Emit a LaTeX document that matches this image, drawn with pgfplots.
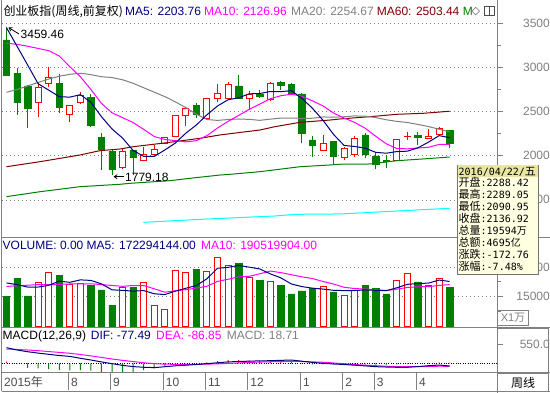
\documentclass[border=0pt]{standalone}
\usepackage{fontspec}
\setmainfont{Liberation Sans}
\newfontfamily\cjk{Noto Sans CJK SC}
\newfontfamily\mono{DejaVu Sans Mono}
\newfontfamily\dejavu{DejaVu Sans}
\usepackage{pgfplots}
\usepackage{pgfplotstable}
\pgfplotsset{compat=1.18}
\usetikzlibrary{arrows.meta}
\definecolor{cgreen}{HTML}{008000}
\definecolor{cred}{HTML}{FF0000}
\definecolor{cnavy}{HTML}{000080}
\definecolor{cmag}{HTML}{FF00FF}
\definecolor{cgray}{HTML}{808080}
\definecolor{cdred}{HTML}{800000}
\definecolor{ccyan}{HTML}{00FFFF}
\definecolor{tipbg}{HTML}{FFFFE1}
\definecolor{tiphd}{HTML}{E8E6A0}
\newcommand\fs[1]{\fontsize{#1}{#1}\selectfont}

% candle bodies: i, base=min(open,close), height=|close-open|
\pgfplotstableread{
i b h
0 2914 397
1 2600 334
2 2537 253
5 2544 276
8 2340 322
9 2076 132
10 1849 204
12 1977 88
18 2472 95
22 2650 140
24 2668 31
26 2793 34
27 2707 105
28 2254 445
29 2113 65
31 1989 170
34 2016 219
35 1903 94
36 1940 5
39 2208 18
42 2136.92 151.5
}\gbody
\pgfplotstableread{
i b h
3 2605 170
4 2820 68
6 2469 102
7 2600 80
11 1864 189
13 1940 68
14 2016 57
15 2140 68
16 2215 235
17 2453 84
19 2416 234
20 2650 57
21 2650 151
23 2650 46
25 2631 189
30 2057 83
32 1977 107
33 2016 181
37 1943 235
38 2212 6
40 2197 26
41 2242 68
}\rbody
% wicks: low / high pairs
\pgfplotstableread{
i y
0 2905
0 3459.46
nan nan
1 2461
1 2997
nan nan
2 2310
2 2800
nan nan
5 2487
5 2922
nan nan
8 2330
8 2699
nan nan
9 1838
9 2254
nan nan
10 1779.18
10 2060
nan nan
12 1782
12 2070
nan nan
18 2424
18 2594
nan nan
22 2645
22 2914
nan nan
24 2650
24 2744
nan nan
26 2744
26 2850
nan nan
27 2700
27 2820
nan nan
28 2140
28 2705
nan nan
29 1989
29 2223
nan nan
31 1895
31 2165
nan nan
34 1977
34 2254
nan nan
35 1846
35 2045
nan nan
36 1864
36 2008
nan nan
39 2121
39 2272
nan nan
42 2090.95
42 2289.05
}\gwick
\pgfplotstableread{
i y
3 2442
3 2838
nan nan
4 2782
4 3002
nan nan
6 2378
6 2575
nan nan
7 2582
7 2725
nan nan
11 1849
11 2084
nan nan
13 1935
13 2102
nan nan
14 2010
14 2121
nan nan
15 2135
15 2215
nan nan
16 2210
16 2455
nan nan
17 2340
17 2545
nan nan
19 2410
19 2655
nan nan
20 2612
20 2812
nan nan
21 2645
21 2838
nan nan
23 2518
23 2733
nan nan
25 2625
25 2835
nan nan
30 2050
30 2235
nan nan
32 1951
32 2102
nan nan
33 1989
33 2223
nan nan
37 1938
37 2183
nan nan
38 2178
38 2265
nan nan
40 2190
40 2303
nan nan
41 2235
41 2320
}\rwick
\pgfplotstableread{
i m5 m10 m20
0 3450 3274 2718
1 3240 3262 2750
2 3028 3240 2790
3 2815 3215 2830
4 2742.8 3190 2868
5 2668.8 3130 2900
6 2663 3009 2922
7 2691.6 2895 2934
8 2604.6 2750 2918
9 2442.2 2592.5 2895
10 2303.2 2486 2885
11 2199.6 2431.3 2860
12 2059 2375.3 2820
13 1992.6 2298.6 2770
14 1992 2217.1 2720
15 2063.8 2183.5 2670
16 2143.2 2171.4 2610
17 2255.2 2157.1 2545
18 2348 2170.3 2470
19 2463.4 2227.7 2410
20 2563.2 2313.5 2399.8
21 2633.4 2388.3 2409.8
22 2656 2455.6 2415.5
23 2700.8 2524.4 2411.5
24 2704.4 2583.9 2400.5
25 2727 2645.1 2414.3
26 2725.4 2679.4 2425.4
27 2736.8 2696.4 2426.8
28 2648.4 2674.6 2422.5
29 2537.4 2620.9 2424.3
30 2401.4 2564.2 2438.9
31 2240.6 2483 2435.7
32 2116 2426.4 2441
33 2104.6 2376.5 2450.5
34 2085.2 2311.3 2447.6
35 2037.8 2219.6 2432.4
36 2028 2134.3 2406.9
37 2046.8 2081.4 2388.9
38 2051 2077.8 2376.2
39 2089.4 2087.3 2354.1
40 2153.4 2095.6 2329.9
41 2227.4 2127.7 2300
42 2203.76 2126.96 2270
}\mas
\pgfplotstableread{
i v
0 15000
1 24150
2 15360
5 25700
8 20530
9 18460
10 10700
12 19650
18 28810
22 31910
24 23120
26 20530
27 16400
28 17950
29 19140
31 17430
34 20530
35 19340
36 16400
39 22450
42 19594
}\gvol
\pgfplotstableread{
i v
3 21930
4 27100
6 21050
7 21570
11 19650
13 21930
14 10550
15 8480
16 28290
17 27000
19 27620
20 34860
21 30510
23 24510
25 22450
30 20170
32 15720
33 18100
37 23120
38 26740
40 20530
41 24000
}\rvol
\pgfplotstableread{
i m5 m10
0 21930 20170
1 21050 20500
2 19860 20800
3 19860 21050
4 20708 21050
5 22848 21200
6 22228 21400
7 23470 21500
8 23190 21500
9 21462 21085
10 18462 20655
11 18182 20205
12 17798 20634
13 18078 20634
14 16496 18979
15 16052 17257
16 17780 17981
17 19250 18524
18 20626 19352
19 24040 20268
20 29316 22684
21 29760 23770
22 30742 24996
23 29882 25254
24 28982 26511
25 26500 27908
26 24504 27132
27 21402 26072
28 20090 24986
29 19294 24138
30 18838 22669
31 18218 21361
32 18082 19742
33 18112 19101
34 18390 18842
35 18224 18531
36 18018 18118
37 19498 18790
38 21226 19669
39 21610 20000
40 21848 20036
41 23368 20693
42 22663 21080
}\vma
\pgfplotstableread{
i dif dea
0 452 414
1 385 400
2 335 385
3 295 365
4 260 340
5 225 315
6 200 290
7 145 255
8 95 215
9 40 170
10 -10 125
11 -60 85
12 -95 50
13 -115 15
14 -125 -10
15 -100 -25
16 -72 -30
17 -55 -32
18 -35 -30
19 -10 -25
20 15 -15
21 40 -5
22 52 10
23 62 25
24 70 35
25 75 44
26 85 50
27 95 55
28 60 52
29 25 40
30 0 30
31 -20 10
32 -35 -15
33 -55 -35
34 -75 -55
35 -98 -70
36 -108 -85
37 -116 -95
38 -116 -100
39 -95 -98
40 -70 -92
41 -50 -85
42 -77.49 -86.85
}\macd
\pgfplotstableread{
i h
0 50
19 30
20 60
21 100
22 90
23 80
24 70
25 80
26 80
27 70
28 10
40 10
41 25
42 18.71
}\hpos
\pgfplotstableread{
i h
1 -20
2 -130
3 -145
4 -170
5 -190
6 -205
7 -200
8 -215
9 -245
10 -290
11 -290
12 -245
13 -195
14 -145
15 -80
16 -30
17 -10
29 -30
30 -35
31 -35
32 -35
33 -35
34 -35
35 -40
36 -40
37 -35
38 -25
}\hneg

\pgfplotsset{
  base/.style={scale only axis, anchor=south west, width=495.5pt, xmin=-0.42654, xmax=46.540},
  mainy/.style={at={(2pt,155pt)}, height=238pt, ymin=1067.6, ymax=3763.9},
  voly/.style={at={(2pt,65pt)}, height=90pt, ymin=-755, ymax=44551},
  macdy/.style={at={(2pt,20pt)}, height=45pt, ymin=-281, ymax=1022},
  rticks/.style={axis x line=none, axis y line*=right,
    y axis line style={-, draw=cgray, line width=1pt},
    tick align=outside, major tick length=5pt, minor tick length=3.5pt,
    tick style={cgray, line width=0.8pt},
    scaled y ticks=false,
    yticklabel style={font=\fs{12}, text=cgray, anchor=east, inner sep=0pt, xshift=47.5pt},
    /pgf/number format/1000 sep={}, /pgf/number format/assume math mode=true,
    major grid style={cgray, line width=0.6pt, dash pattern=on 0.8pt off 3.2pt}},
}

\begin{document}
\begin{tikzpicture}
\fill[white] (0pt,0pt) rectangle (550pt,393pt);

% ---- main panel: grid, ticks, wicks
\begin{axis}[base, mainy, rticks,
  ytick={1500,2000,2500,3000,3500}, minor ytick={1250,1750,2250,2750,3250},
  ymajorgrids]
\addplot[cgreen, line width=1pt, unbounded coords=jump] table[x=i,y=y] {\gwick};
\addplot[cred, line width=1pt, unbounded coords=jump] table[x=i,y=y] {\rwick};
\end{axis}
% green bodies
\begin{axis}[base, mainy, hide axis, ybar stacked, bar width=6.4pt]
\addplot[draw=none, fill=none] table[x=i,y=b] {\gbody};
\addplot[fill=cgreen, draw=cgreen, line width=0.6pt] table[x=i,y=h] {\gbody};
\end{axis}
% red hollow bodies
\begin{axis}[base, mainy, hide axis, ybar stacked, bar width=6pt]
\addplot[draw=none, fill=none] table[x=i,y=b] {\rbody};
\addplot[fill=white, draw=cred, line width=1pt] table[x=i,y=h] {\rbody};
\end{axis}
% moving averages
\begin{axis}[base, mainy, hide axis]
\addplot[ccyan, line width=1pt] coordinates {(12.97,1245) (18.34,1279) (25.45,1317) (27.5,1336) (31.6,1340) (34.74,1359) (38.88,1385) (42,1404)};
\addplot[cgreen, line width=1pt] coordinates {(0,1536) (3.18,1592) (6.97,1649) (10.76,1676) (11.71,1687) (15.5,1717) (17.39,1744) (20.24,1781) (21.18,1789) (24.03,1819) (27.82,1875) (30.66,1895) (31.61,1903) (34.45,1906) (36.99,1943) (39.48,1963) (42,1985)};
\addplot[cdred, line width=1pt] coordinates {(0,1875) (3.18,1932) (6.97,2008) (8.86,2057) (10.76,2076) (12.02,2102) (15.18,2147) (18.34,2197) (20.24,2235) (21.5,2254) (24.03,2291) (25.45,2329) (27.82,2378) (30.66,2404) (31.61,2416) (34.45,2442) (36.99,2469) (39.48,2480) (42,2503.44)};
\addplot[cgray, line width=1pt] table[x=i,y=m20] {\mas};
\addplot[cmag, line width=1pt] table[x=i,y=m10] {\mas};
\addplot[cnavy, line width=1pt] table[x=i,y=m5] {\mas};
\end{axis}

% ---- volume panel
\begin{axis}[base, voly, rticks,
  ytick={15000,30000}, minor ytick={7500,22500,37500}, ymajorgrids]
\addplot[ybar, bar shift=0pt, bar width=6.4pt, fill=cgreen, draw=cgreen, line width=0.6pt] table[x=i,y=v] {\gvol};
\addplot[ybar, bar shift=0pt, bar width=6pt, fill=white, draw=cred, line width=1pt] table[x=i,y=v] {\rvol};
\addplot[cmag, line width=1pt] table[x=i,y=m10] {\vma};
\addplot[cnavy, line width=1pt] table[x=i,y=m5] {\vma};
\end{axis}

% ---- MACD panel
\begin{axis}[base, macdy, rticks, ytick={550}, yticklabels={550.0}]
\addplot[black, line width=0.8pt, dash pattern=on 0.8pt off 1.6pt] coordinates {(-0.42654,0) (46.54,0)};
\addplot[ybar, bar shift=0pt, bar width=1pt, fill=cred, draw=none] table[x=i,y=h] {\hpos};
\addplot[ybar, bar shift=0pt, bar width=1pt, fill=cgreen, draw=none] table[x=i,y=h] {\hneg};
\addplot[cmag, line width=1pt] table[x=i,y=dea] {\macd};
\addplot[cnavy, line width=1pt] table[x=i,y=dif] {\macd};
\end{axis}

\begin{scope}[x=1pt,y=1pt]
% frame
\draw[cgray, line width=1pt] (1.5,2) -- (1.5,393);
\draw[cgray, line width=1pt] (497.5,0) -- (497.5,393);
\draw[cgray, line width=1pt] (1.5,155) -- (550,155);
\draw[cgray, line width=1pt] (1.5,65) -- (550,65);
\draw[cgray, line width=1pt] (1.5,20) -- (550,20);
\draw[cgray, line width=1pt] (1.5,1.5) -- (550,1.5);
\draw[cgray, line width=1.6pt] (497.5,20) rectangle (548.5,65);
\draw[cgray, line width=1pt] (548.5,1.5) -- (548.5,20);
% date strip
\foreach \X/\L in {68.3/8, 110.5/9, 163.25/10, 205.45/11, 247.65/12, 300.4/1, 342.6/2, 374.25/3, 416.45/4}{
  \draw[cgray, line width=1pt] (\X,20) -- (\X,3);
  \node[anchor=base west, inner sep=0pt, font=\fs{12}, text=black!70] at (\X+2.5,6) {\L};
}
\node[anchor=base west, inner sep=0pt, font=\fs{12}, text=black!70] at (4,6) {2015{\cjk 年}};
\node[font=\fs{12}] at (523,10.5) {\cjk 周线};
% titles
\node[anchor=base west, inner sep=0pt, font=\fs{12}] at (3.3,377) {\cjk 创业板指(周线,前复权)};
\node[anchor=base west, inner sep=0pt, font=\fs{12}, text=cnavy] at (125,377) {MA5: 2203.76};
\node[anchor=base west, inner sep=0pt, font=\fs{12}, text=cmag] at (204,377) {MA10: 2126.96};
\node[anchor=base west, inner sep=0pt, font=\fs{12}, text=cgray] at (291,377) {MA20: 2254.67};
\node[anchor=base west, inner sep=0pt, font=\fs{12}, text=cdred] at (376.7,377) {MA60: 2503.44};
\node[anchor=base west, inner sep=0pt, font=\fs{12}, text=cgreen] at (462.7,377) {M};
\node[anchor=base west, inner sep=0pt, font=\fs{11}, text=black!70] at (471.5,378) {\dejavu ◇};
\draw[black!70, line width=0.8pt] (484.5,377.5) rectangle (494.5,387);
\draw[black!70, line width=0.8pt] (489.5,377.5) -- (489.5,387);
\node[anchor=base west, inner sep=0pt, font=\fs{12}, text=cnavy] at (2.5,143) {VOLUME: 0.00 MA5: 172294144.00};
\node[anchor=base west, inner sep=0pt, font=\fs{12}, text=cmag] at (201,143) {MA10: 190519904.00};
\node[anchor=base west, inner sep=0pt, font=\fs{12}] at (2.5,53) {MACD(12,26,9)};
\node[anchor=base west, inner sep=0pt, font=\fs{12}, text=cnavy] at (90.7,53) {DIF: -77.49};
\node[anchor=base west, inner sep=0pt, font=\fs{12}, text=cmag] at (156,53) {DEA: -86.85};
\node[anchor=base west, inner sep=0pt, font=\fs{12}, text=cgray] at (226.7,53) {MACD: 18.71};
% extreme labels
\draw[black, line width=0.8pt, -{Straight Barb[length=3pt,width=4pt]}] (19,359) -- (8.5,365.5);
\node[anchor=base west, inner sep=0pt, font=\fs{12}] at (20.5,354.5) {3459.46};
\draw[black, line width=0.8pt, -{Straight Barb[length=3pt,width=4pt]}] (124,216.3) -- (113.5,216.3);
\node[anchor=base west, inner sep=0pt, font=\fs{12}] at (125,211.5) {1779.18};
% X1万 box
\draw[cgray, line width=0.8pt] (497.7,82.3) rectangle (528.3,68);
\node[font=\fs{11}, text=cgray, inner sep=0pt] at (513,75) {X1{\cjk 万}};
% info box
\draw[fill=tipbg, draw=black!55, line width=0.8pt] (457.5,228) rectangle (538,119);
\fill[tiphd] (458,227.5) rectangle (537.5,215.7);
\node[anchor=base west, inner sep=0pt, text height=8.5pt, text depth=1.5pt] at (458.5,217.5) {{\mono\fs{10}2016/04/22/}{\cjk\fs{11}五}};
\foreach \k/\a/\b in {0/开盘/2288.42, 1/最高/2289.05, 2/最低/2090.95, 3/收盘/2136.92, 4/总量/19594{\cjk 万}, 5/总额/4695{\cjk 亿}, 6/涨跌/-172.76, 7/涨幅/-7.48\%}{
  \node[anchor=base west, inner sep=0pt, text height=8.5pt, text depth=1.5pt] at (458.5,206-12*\k) {{\cjk\fs{11}\a}{\mono\fs{10}:\b}};
}
\end{scope}
\pgfresetboundingbox
\path[use as bounding box] (0pt,0pt) rectangle (550pt,393pt);
\end{tikzpicture}
\end{document}
